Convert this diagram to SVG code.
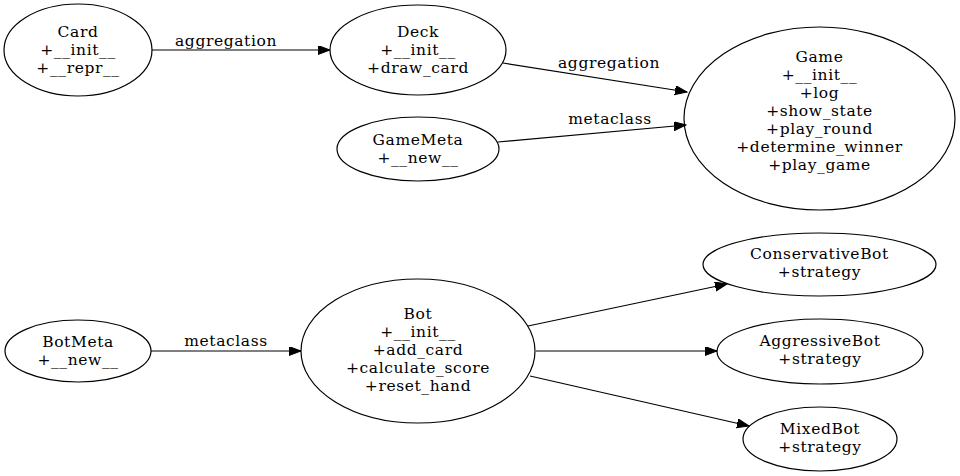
<svg xmlns="http://www.w3.org/2000/svg" width="960" height="476" viewBox="0 0 960 476">
<style>
.n ellipse{fill:none;stroke:#000;stroke-width:1.2}
text{font-family:"DejaVu Serif","Liberation Serif",serif;font-size:15.5px;letter-spacing:0.6px;text-anchor:middle;fill:#000}
.e line{stroke:#000;stroke-width:1.2;marker-end:url(#ah)}
</style>
<defs>
<marker id="ah" markerUnits="userSpaceOnUse" markerWidth="13" markerHeight="10" refX="12" refY="4.5" orient="auto"><path d="M0,0 L12,4.5 L0,9 z" fill="#000" stroke="#000" stroke-width="1"/></marker>
</defs>
<rect width="960" height="476" fill="#fff"/>
<g id="edges" class="e">
<line x1="152" y1="50" x2="330" y2="50"/>
<line x1="503" y1="63" x2="687" y2="92"/>
<line x1="498" y1="142" x2="686" y2="125"/>
<line x1="151" y1="351" x2="301" y2="351"/>
<line x1="528" y1="326" x2="727" y2="284"/>
<line x1="536" y1="351" x2="717" y2="351"/>
<line x1="530" y1="376" x2="749" y2="426"/>
<text x="226" y="46">aggregation</text>
<text x="609" y="68">aggregation</text>
<text x="610" y="124">metaclass</text>
<text x="226" y="346">metaclass</text>
</g>
<g id="Card" class="n"><ellipse cx="78" cy="50" rx="74" ry="46"/><text x="78" y="37">Card</text><text x="78" y="55">+__init__</text><text x="78" y="73">+__repr__</text></g>
<g id="Deck" class="n"><ellipse cx="418" cy="50" rx="88" ry="45"/><text x="418" y="37">Deck</text><text x="418" y="55">+__init__</text><text x="418" y="73">+draw_card</text></g>
<g id="GameMeta" class="n"><ellipse cx="418" cy="149" rx="81" ry="32"/><text x="418" y="145">GameMeta</text><text x="418" y="163">+__new__</text></g>
<g id="Game" class="n"><ellipse cx="819.5" cy="118.5" rx="135.5" ry="91.5"/><text x="819.5" y="62">Game</text><text x="819.5" y="80">+__init__</text><text x="819.5" y="98">+log</text><text x="819.5" y="116">+show_state</text><text x="819.5" y="134">+play_round</text><text x="819.5" y="152">+determine_winner</text><text x="819.5" y="170">+play_game</text></g>
<g id="BotMeta" class="n"><ellipse cx="78" cy="351" rx="73" ry="31"/><text x="78" y="347">BotMeta</text><text x="78" y="365">+__new__</text></g>
<g id="Bot" class="n"><ellipse cx="418" cy="351" rx="117" ry="72"/><text x="418" y="319">Bot</text><text x="418" y="337">+__init__</text><text x="418" y="355">+add_card</text><text x="418" y="373">+calculate_score</text><text x="418" y="391">+reset_hand</text></g>
<g id="ConservativeBot" class="n"><ellipse cx="819.5" cy="264.5" rx="116.5" ry="31.5"/><text x="819.5" y="259">ConservativeBot</text><text x="819.5" y="277">+strategy</text></g>
<g id="AggressiveBot" class="n"><ellipse cx="820" cy="351.5" rx="103" ry="32.5"/><text x="820" y="346">AggressiveBot</text><text x="820" y="364">+strategy</text></g>
<g id="MixedBot" class="n"><ellipse cx="820" cy="439" rx="77" ry="32"/><text x="820" y="434">MixedBot</text><text x="820" y="452">+strategy</text></g>
</svg>
